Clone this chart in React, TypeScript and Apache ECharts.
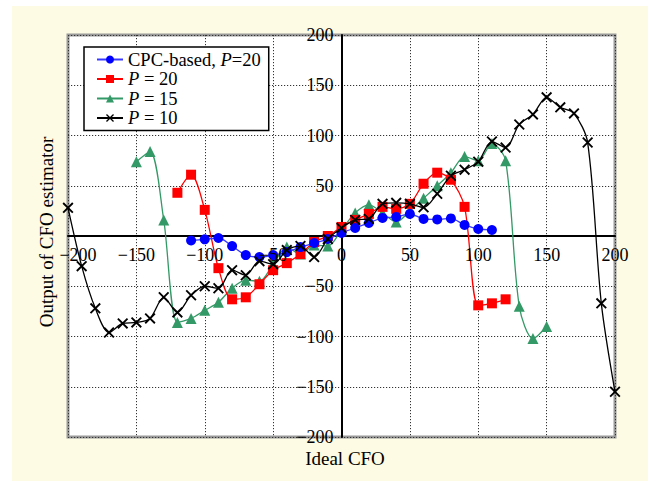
import React, { useEffect, useRef } from "react";
import * as echarts from "echarts";

const FONT = "Liberation Serif";

const cpcX = [-110, -100, -90, -80, -70, -60, -50, -40, -30, -20, -10, 0, 10, 20, 30, 40, 50, 60, 70, 80, 90, 100, 110];
const cpcY = [-4.5, -3.3, -2, -10, -19, -21, -19, -16, -11, -7, -3, 3, 8, 13, 18, 19, 22, 17, 16.5, 17.5, 11, 7, 6];

const p20X = [-120, -110, -100, -90, -80, -70, -60, -50, -40, -30, -20, -10, 0, 10, 20, 30, 40, 50, 60, 70, 80, 90, 100, 110, 120];
const p20Y = [43, 61, 26, -32, -63, -61, -48, -34, -27, -18, -6, 0, 9, 16, 22, 29, 27, 32, 52, 63, 56, 29, -69, -67, -63];

const p15X = [-150, -140, -130, -120, -110, -100, -90, -80, -70, -60, -50, -40, -30, -20, -10, 0, 10, 20, 30, 40, 50, 60, 70, 80, 90, 100, 110, 120, 130, 140, 150];
const p15Y = [74, 84, 16, -86, -82, -74, -66, -52, -44, -45, -28, -11, -18, -9, -10, 6, 23, 31, 23, 14, 25, 37.5, 50, 63, 79, 75, 92, 75, -70, -102, -90];

const p10X = [-200, -190, -180, -170, -160, -150, -140, -130, -120, -110, -100, -90, -80, -70, -60, -50, -40, -30, -20, -10, 0, 10, 20, 30, 40, 50, 60, 70, 80, 90, 100, 110, 120, 130, 140, 150, 160, 170, 180, 190, 200];
const p10Y = [28, -30, -72, -96, -87, -86, -82, -61, -76, -59, -50, -52, -34, -39, -25, -28, -14, -10, -21, -3, 8, 16, 17, 32, 33, 32, 28.5, 42, 60, 66, 74, 94, 88, 111, 121, 138, 128, 122, 93, -67, -155];

const xTicks = [-200, -150, -100, -50, 0, 50, 100, 150, 200];
const yTicks = [-200, -150, -100, -50, 50, 100, 150, 200];

const seriesNames = ["CPC-based, P=20", "P = 20", "P = 15", "P = 10"];
const legendLabels = [
  "{n|CPC-based, }{i|P}{n|=20}",
  "{i|P}{n| = 20}",
  "{i|P}{n| = 15}",
  "{i|P}{n| = 10}",
];

const CROSS = "path://M0,1.2L1.2,0L10,8.8L8.8,10Z M8.8,0L10,1.2L1.2,10L0,8.8Z";

const zip = (xs: number[], ys: number[]) => xs.map((x, i) => [x, ys[i]]);
const fmt = (v: number) => (v < 0 ? "\u2212" + Math.abs(v) : String(v));

const GRID = { left: 68, right: 33, top: 35, bottom: 44 };
const W = 648;
const H = 481;
const TICK_FS = 18;
const LEG = 18.5;

export default function App() {
  const ref = useRef<HTMLDivElement>(null);
  useEffect(() => {
    if (!ref.current) return;
    const chart = echarts.init(ref.current, undefined, { renderer: "svg" });
    const plotW = W - GRID.left - GRID.right;
    const plotH = H - GRID.top - GRID.bottom;
    const common = { type: "line", smooth: 0.3 };
    const grid = { lineStyle: { color: "#333", type: [1.2, 1.8], width: 1 } };
    chart.setOption({
      animation: false,
      backgroundColor: "transparent",
      textStyle: { fontFamily: FONT },
      grid: {
        ...GRID,
        show: true,
        backgroundColor: "#ffffff",
        borderColor: "#9a9a9a",
        borderWidth: 3,
      },
      legend: {
        data: seriesNames,
        orient: "vertical",
        left: 84,
        top: 47,
        backgroundColor: "#ffffff",
        borderColor: "#000",
        borderWidth: 1.5,
        borderRadius: 0,
        padding: [3, 8, 3, 12],
        itemGap: 0.5,
        itemWidth: 26,
        itemHeight: 10,
        formatter: (name: string) => legendLabels[seriesNames.indexOf(name)],
        textStyle: {
          fontFamily: FONT,
          fontSize: LEG,
          color: "#000",
          lineHeight: 17,
          rich: {
            n: { fontFamily: FONT, fontSize: LEG, color: "#000", lineHeight: 17 },
            i: { fontFamily: FONT, fontSize: LEG, fontStyle: "italic", color: "#000", lineHeight: 17 },
          },
        },
      },
      xAxis: {
        type: "value",
        min: -200,
        max: 200,
        interval: 50,
        position: "bottom",
        offset: -plotH / 2,
        axisLine: { onZero: false, lineStyle: { color: "#000", width: 2 } },
        axisTick: { show: false },
        axisLabel: { show: false },
        splitLine: { show: true, ...grid },
      },
      yAxis: {
        type: "value",
        min: -200,
        max: 200,
        interval: 50,
        position: "left",
        offset: -plotW / 2,
        axisLine: { onZero: false, lineStyle: { color: "#000", width: 2 } },
        axisTick: { show: false },
        axisLabel: { show: false },
        splitLine: { show: true, ...grid },
      },
      series: [
        {
          ...common,
          name: seriesNames[0],
          data: zip(cpcX, cpcY),
          symbol: "circle",
          symbolSize: 10,
          color: "#0000ff",
          itemStyle: { color: "#0000ff" },
          lineStyle: { width: 1.3, color: "#3a3aff" },
          z: 5,
        },
        {
          ...common,
          name: seriesNames[1],
          data: zip(p20X, p20Y),
          symbol: "rect",
          symbolSize: 10,
          color: "#ff0000",
          itemStyle: { color: "#ff0000" },
          lineStyle: { width: 1.3, color: "#ff0000" },
          z: 4,
        },
        {
          ...common,
          name: seriesNames[2],
          data: zip(p15X, p15Y),
          symbol: "triangle",
          symbolSize: 11,
          color: "#339966",
          itemStyle: { color: "#339966" },
          lineStyle: { width: 1.3, color: "#339966" },
          z: 3,
        },
        {
          ...common,
          name: seriesNames[3],
          data: zip(p10X, p10Y),
          symbol: CROSS,
          symbolSize: 11,
          color: "#000000",
          itemStyle: { color: "#000000" },
          lineStyle: { width: 1.3, color: "#000000" },
          z: 6,
        },
      ],
    });

    const toPx = (x: number, y: number) =>
      chart.convertToPixel({ gridIndex: 0 }, [x, y]) as number[];
    const [zx, zy] = toPx(0, 0);
    const txt = (x: number, y: number, text: string, align: string, vAlign: string, fs: number, rot = 0) => ({
      type: "text",
      x,
      y,
      rotation: rot,
      z: 100,
      style: { text, fontFamily: FONT, fontSize: fs, fill: "#000", align, verticalAlign: vAlign },
    });
    const labels: any[] = [];
    xTicks.forEach((v) => {
      const [px] = toPx(v, 0);
      labels.push(txt(px + (v === -200 ? 10 : 0), zy + 10, fmt(v), "center", "top", TICK_FS));
    });
    yTicks.forEach((v) => {
      const [, py] = toPx(0, v);
      labels.push(txt(zx - 8, py, fmt(v), "right", "middle", TICK_FS));
    });
    labels.push(txt(345, 458, "Ideal CFO", "center", "middle", 19));
    labels.push(txt(46, 232, "Output of CFO estimator", "center", "middle", 19, Math.PI / 2));
    chart.setOption({ graphic: labels });

    return () => chart.dispose();
  }, []);
  return (
    <div style={{ position: "fixed", left: 0, top: 0, width: W, height: H, background: "#ffffff" }}>
      <div style={{ position: "absolute", left: 12, top: 6, right: 0, bottom: 0, background: "#fdfbe3" }} />
      <div ref={ref} style={{ position: "absolute", left: 0, top: 0, width: W, height: H }} />
    </div>
  );
}
